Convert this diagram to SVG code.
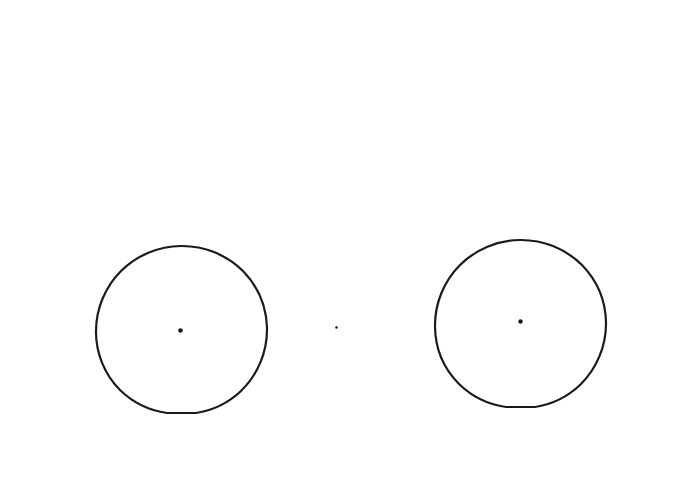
<svg xmlns="http://www.w3.org/2000/svg" width="697" height="496" viewBox="0 0 697 496">
<style>
.ring{fill:none;stroke:#1a1a1a;stroke-width:2.2;stroke-linejoin:round}
.dot{fill:#1a1a1a}
</style>
<rect width="697" height="496" fill="#ffffff"/>
<g id="circle-left">
<path class="ring" d="M181,246 A86,84 0 0 1 243,271 A88,86 0 0 1 267,328 A86,86 0 0 1 241,391 A84,84 0 0 1 196,413 L167,413 A84,84 0 0 1 120,390 A86,84 0 0 1 96,331 A86,86 0 0 1 121,271 A86,84 0 0 1 181,246 Z"/>
<circle class="dot" cx="180.5" cy="330.5" r="2.3"/>
</g>
<g id="circle-right">
<path class="ring" d="M520,240 A86,84 0 0 1 582,265 A88,86 0 0 1 606,322 A86,86 0 0 1 580,385 A84,84 0 0 1 535,407 L506,407 A84,84 0 0 1 459,384 A86,84 0 0 1 435,326 A86,86 0 0 1 460,265 A86,84 0 0 1 520,240 Z"/>
<circle class="dot" cx="520.5" cy="321.5" r="2.2"/>
</g>
<g id="center-point">
<circle class="dot" cx="336.5" cy="327.5" r="1.3"/>
</g>
<g id="connectors"></g>
</svg>
